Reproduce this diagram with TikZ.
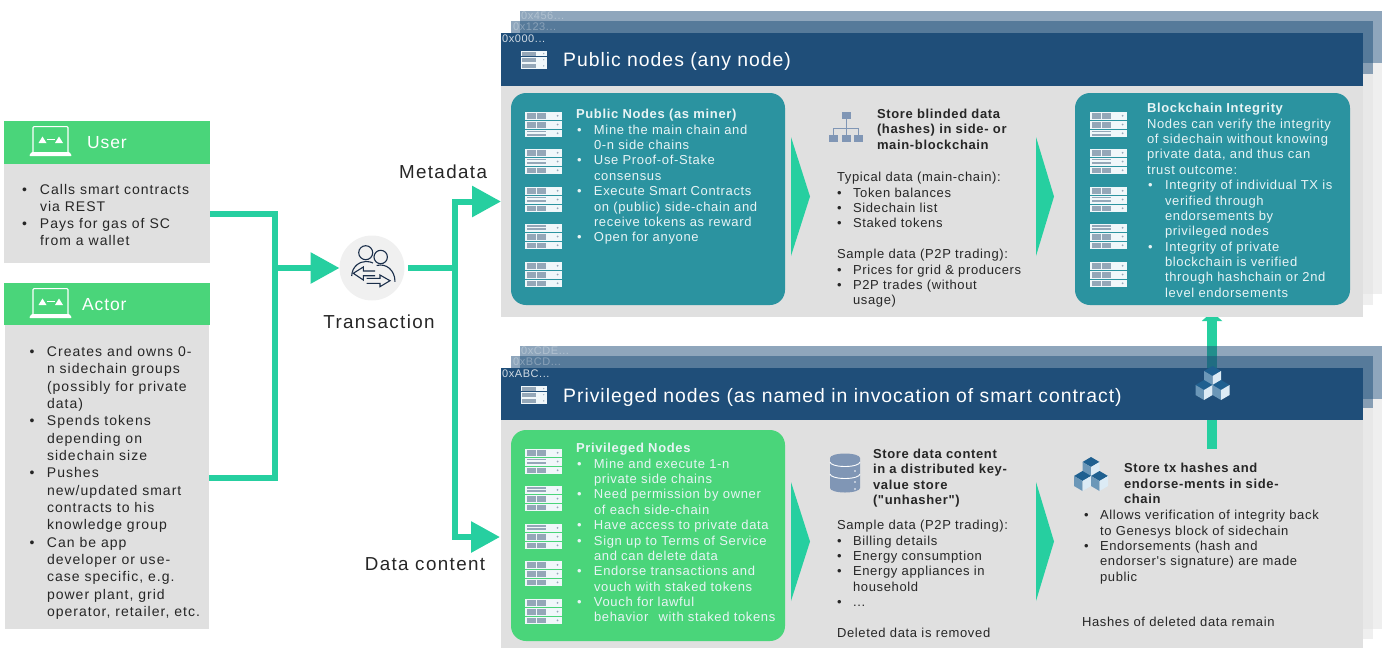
\documentclass[tikz,border=0pt]{standalone}
\usepackage{fontspec}
\setmainfont{Liberation Sans}[LetterSpace=5,Ligatures=TeXOff]
\newfontfamily\widefam{Liberation Sans}[LetterSpace=7.3,Ligatures=TeXOff]
\usetikzlibrary{arrows.meta}
\definecolor{grn}{HTML}{4AD57A}
\definecolor{conncol}{HTML}{26CFA0}
\definecolor{navy}{HTML}{1F4E79}
\definecolor{panel}{HTML}{E0E0E0}
\definecolor{tealbox}{HTML}{2B93A0}
\definecolor{ink}{HTML}{262626}
\definecolor{onbox}{HTML}{E8F4F5}
\definecolor{srvbar}{HTML}{94A7B8}
\definecolor{srvbg}{HTML}{F0F7FA}
\definecolor{slate}{HTML}{8096B5}
\definecolor{cubetop}{HTML}{1F6090}
\definecolor{cubeleft}{HTML}{6B97B8}
\definecolor{cuberight}{HTML}{DCEBF5}
\definecolor{iconink}{HTML}{1A2E4A}
\tikzset{
  rect/.style={anchor=north west,inner sep=0pt,outer sep=0pt},
  conn/.style={draw=conncol,line width=6pt},
  connarrow/.style={conn,-{Triangle[length=29pt,width=30pt]}},
  chevron/.style={fill=conncol},
  txt/.style={anchor=north west,inner sep=0pt,outer sep=0pt,align=left,text=ink,font=\fontsize{13}{15.35}\selectfont},
  lighttxt/.style={txt,text=onbox},
  hdr/.style={anchor=west,inner sep=0pt,text=white,font=\fontsize{19.4}{22}\selectfont},
  cardhdr/.style={anchor=west,inner sep=0pt,text=white,font=\fontsize{17.5}{20}\selectfont},
  bigl/.style={anchor=center,inner sep=0pt,text=ink,font=\widefam\fontsize{18.8}{22}\selectfont},
  hexl/.style={anchor=west,inner sep=0pt,font=\fontsize{11}{13}\selectfont},
}
\newcommand{\bul}[1]{\makebox[16pt][l]{\textbullet}#1}
\newcommand{\cnt}[1]{\hspace*{16pt}#1}
\newcommand{\bbl}[1]{\hspace*{1pt}\makebox[17pt][l]{\textbullet}#1}
\newcommand{\bct}[1]{\hspace*{18pt}#1}
\newcommand{\srvrow}[3]{% y, h, type
  \fill[srvbg] (0,#1) rectangle (37,#1+#2);
  \ifnum#3=1
    \fill[srvbar] (2,#1+1) rectangle (11,#1+#2-1);
    \fill[srvbar] (12,#1+1) rectangle (21,#1+#2-1);
  \else
    \fill[srvbar] (2,#1+1.2) rectangle (21,#1+2.9);
    \fill[srvbar] (2,#1+4.4) rectangle (21,#1+6.1);
  \fi
  \fill[srvbar] (32.5,#1+#2/2) circle (1pt);
}
\newcommand{\server}[6]{%
  \begin{scope}[shift={(#1,#2)},scale=#3]
    \srvrow{0}{7.5}{#4}\srvrow{8.5}{8}{#5}\srvrow{17.5}{7.5}{#6}
  \end{scope}}
\newcommand{\onecube}[2]{%
  \fill[cubetop] (#1,#2) -- (#1+8.5,#2+5) -- (#1,#2+10) -- (#1-8.5,#2+5) -- cycle;
  \fill[cubeleft] (#1-8.5,#2+5) -- (#1,#2+10) -- (#1,#2+20) -- (#1-8.5,#2+15) -- cycle;
  \fill[cuberight] (#1+8.5,#2+5) -- (#1,#2+10) -- (#1,#2+20) -- (#1+8.5,#2+15) -- cycle;}
\newcommand{\cubes}[2]{%
  \begin{scope}[shift={(#1,#2)}]
    \onecube{17}{0}\onecube{8.5}{14}\onecube{25.5}{14}
  \end{scope}}
\newcommand{\laptop}[2]{%
  \begin{scope}[shift={(#1,#2)}]
    \draw[white,line width=1.2pt,rounded corners=1pt] (4,26) -- (4,0.6) -- (39,0.6) -- (39,26);
    \fill[white,rounded corners=1pt] (0,30) -- (2.5,26) -- (40.5,26) -- (43,30) -- cycle;
    \fill[white] (9.5,17) -- (13.5,10.5) -- (17.5,17) -- cycle;
    \fill[white] (26,17) -- (30,10.5) -- (34,17) -- cycle;
    \draw[white,line width=.4pt] (17.5,13.5) -- (26,13.5);
  \end{scope}}
\begin{document}
\begin{tikzpicture}[x=1pt,y=-1pt]
\useasboundingbox (0,0) rectangle (1386,648);
% ---- left column
\node[rect,fill=grn,minimum width=206pt,minimum height=43pt] (userhead) at (4,121) {};
\node[rect,fill=panel,minimum width=206pt,minimum height=99pt] (userbody) at (4,164) {};
\node[rect,fill=grn,minimum width=206pt,minimum height=42pt] (actorhead) at (4,283) {};
\node[rect,fill=panel,minimum width=204pt,minimum height=304pt] (actorbody) at (5,325) {};
\laptop{29}{126}
\laptop{29}{288}
\node[cardhdr] (usertitle) at (87,142.5) {User};
\node[cardhdr] (actortitle) at (82,304.5) {Actor};
\node[txt,font=\widefam\fontsize{14}{17}\selectfont] (usertext) at (22,184.5) {\bul{\hspace{2pt}Calls smart contracts}\\\cnt{\hspace{2pt}via REST}\\\bul{\hspace{2pt}Pays for gas of SC}\\\cnt{\hspace{2pt}from a wallet}};
\node[txt,font=\widefam\fontsize{14}{17.33}\selectfont] (actortext) at (29.5,346.5) {\makebox[17.5pt][l]{\textbullet}Creates and owns 0-\\\hspace*{17.5pt}n sidechain groups\\\hspace*{17.5pt}(possibly for private\\\hspace*{17.5pt}data)\\\makebox[17.5pt][l]{\textbullet}Spends tokens\\\hspace*{17.5pt}depending on\\\hspace*{17.5pt}sidechain size\\\makebox[17.5pt][l]{\textbullet}Pushes\\\hspace*{17.5pt}new/updated smart\\\hspace*{17.5pt}contracts to his\\\hspace*{17.5pt}knowledge group\\\makebox[17.5pt][l]{\textbullet}Can be app\\\hspace*{17.5pt}developer or use-\\\hspace*{17.5pt}case specific, e.g.\\\hspace*{17.5pt}power plant, grid\\\hspace*{17.5pt}operator, retailer, etc.};
% ---- privileged panel, back to front
\fill[panel,opacity=.5] (520,399) rectangle (1382,629);
\fill[panel,opacity=.5] (511,408) rectangle (1373,639);
\node[rect,fill=panel,minimum width=862pt,minimum height=228pt] (privbody) at (501,420) {};
\coordinate (endorse) at (1212,449);
\coordinate (integrity) at (1212,312);
\draw[draw=conncol,line width=10pt,-{Triangle[length=9pt,width=20pt]}] (endorse) -- (integrity);
\fill[navy,opacity=.5] (520,346) rectangle (1382,399);
\fill[navy,opacity=.5] (511,356) rectangle (1373,408);
\fill[navy] (501,368) rectangle (1363,420);
\node[hexl,text=white,opacity=.3] (hexc) at (521,351) {0xCDE...};
\node[hexl,text=white,opacity=.3] (hexb) at (513,362) {0xBCD...};
\node[hexl,text=white,opacity=.8] (hexa) at (502,374) {0xABC...};
\server{521}{386}{.7}{1}{1}{1}
\node[hdr] (privtitle) at (563,397) {Privileged nodes (as named in invocation of smart contract)};
\cubes{1195.5}{366}
% ---- public panel, back to front
\fill[panel,opacity=.5] (520,63) rectangle (1382,294);
\fill[panel,opacity=.5] (511,74) rectangle (1373,305);
\node[rect,fill=panel,minimum width=862pt,minimum height=231pt] (pubbody) at (501,86) {};
\fill[navy,opacity=.5] (520,11) rectangle (1382,63);
\fill[navy,opacity=.5] (511,21) rectangle (1373,74);
\fill[navy] (501,33) rectangle (1363,86);
\node[hexl,text=white,opacity=.3] (hexf) at (521,16) {0x456...};
\node[hexl,text=white,opacity=.3] (hexe) at (513,27) {0x123...};
\node[hexl,text=white,opacity=.8] (hexd) at (502,39) {0x000...};
\server{521}{51}{.7}{1}{1}{1}
\node[hdr] (pubtitle) at (563,61.5) {Public nodes (any node)};
% ---- rounded boxes
\node[rect,fill=tealbox,rounded corners=15pt,minimum width=274pt,minimum height=212pt] (minerbox) at (511,93) {};
\node[rect,fill=tealbox,rounded corners=15pt,minimum width=275pt,minimum height=212pt] (integritybox) at (1075,93) {};
\node[rect,fill=grn,rounded corners=15pt,minimum width=274pt,minimum height=211pt] (privbox) at (511,430) {};
\server{525}{112}{1}{1}{1}{2}
\server{525}{149}{1}{1}{2}{1}
\server{525}{187}{1}{1}{2}{1}
\server{525}{224}{1}{2}{1}{1}
\server{525}{262}{1}{1}{1}{1}
\server{1090}{112}{1}{1}{1}{2}
\server{1090}{149}{1}{1}{2}{1}
\server{1090}{187}{1}{1}{2}{1}
\server{1090}{224}{1}{2}{1}{1}
\server{1090}{262}{1}{1}{1}{1}
\server{525}{449}{1}{1}{2}{1}
\server{525}{486}{1}{2}{1}{1}
\server{525}{524}{1}{2}{1}{1}
\server{525}{561}{1}{1}{1}{1}
\server{525}{599}{1}{1}{1}{1}
% ---- box texts
\node[lighttxt] (minertext) at (576,109.5) {\textbf{Public Nodes (as miner)}\\\bbl{Mine the main chain and}\\\bct{0-n side chains}\\\bbl{Use Proof-of-Stake}\\\bct{consensus}\\\bbl{Execute Smart Contracts}\\\bct{on (public) side-chain and}\\\bct{receive tokens as reward}\\\bbl{Open for anyone}};
\node[lighttxt] (integritytext) at (1147,103.5) {\textbf{Blockchain Integrity}\\Nodes can verify the integrity\\of sidechain without knowing\\private data, and thus can\\trust outcome:\\\bbl{Integrity of individual TX is}\\\bct{verified through}\\\bct{endorsements by}\\\bct{privileged nodes}\\\bbl{Integrity of private}\\\bct{blockchain is verified}\\\bct{through hashchain or 2nd}\\\bct{level endorsements}};
\node[lighttxt] (privtext) at (576,443.5) {\textbf{Privileged Nodes}\\\bbl{Mine and execute 1-n}\\\bct{private side chains}\\\bbl{Need permission by owner}\\\bct{of each side-chain}\\\bbl{Have access to private data}\\\bbl{Sign up to Terms of Service}\\\bct{and can delete data}\\\bbl{Endorse transactions and}\\\bct{vouch with staked tokens}\\\bbl{Vouch for lawful}\\\bct{behavior\hspace{6pt} with staked tokens}};
% ---- middle and right columns
\node[txt] (storehead) at (877,109) {\textbf{Store blinded data}\\\textbf{(hashes) in side- or}\\\textbf{main-blockchain}};
\node[txt] (storetext) at (837,172.5) {Typical data (main-chain):\\\bul{Token balances}\\\bul{Sidechain list}\\\bul{Staked tokens}\\[15.35pt]Sample data (P2P trading):\\\bul{Prices for grid \& producers}\\\bul{P2P trades (without}\\\cnt{usage)}};
\node[txt] (kvhead) at (873,449) {\textbf{Store data content}\\\textbf{in a distributed key-}\\\textbf{value store}\\\textbf{("unhasher")}};
\node[txt] (kvtext) at (837,520.5) {Sample data (P2P trading):\\\bul{Billing details}\\\bul{Energy consumption}\\\bul{Energy appliances in}\\\cnt{household}\\\bul{...}\\[15.35pt]Deleted data is removed};
\node[txt] (txhead) at (1124,463.5) {\textbf{Store tx hashes and}\\\textbf{endorse-ments in side-}\\\textbf{chain}};
\node[txt] (txtext) at (1084,510.5) {\bul{Allows verification of integrity back}\\\cnt{to Genesys block of sidechain}\\\bul{Endorsements (hash and}\\\cnt{endorser's signature) are made}\\\cnt{public}};
\node[txt] (txfoot) at (1082,617.5) {Hashes of deleted data remain};
% ---- chevrons
\fill[chevron] (791,137) -- (810,196.5) -- (791,256) -- cycle;
\fill[chevron] (1036,137) -- (1054,196.5) -- (1036,256) -- cycle;
\fill[chevron] (791,482) -- (810,541.5) -- (791,601) -- cycle;
\fill[chevron] (1036,482) -- (1054,541.5) -- (1036,601) -- cycle;
% ---- hierarchy icon
\fill[slate] (842,112) rectangle (851,119);
\fill[slate] (829,135) rectangle (838,142);
\fill[slate] (842,135) rectangle (851,142);
\fill[slate] (854,135) rectangle (863,142);
\draw[slate,line width=.8pt] (846.5,119) -- (846.5,135) (833.5,135) -- (833.5,128) -- (858.5,128) -- (858.5,135);
% ---- database icon
\fill[slate] (830,458) arc[start angle=180,end angle=0,x radius=15pt,y radius=4.5pt] -- (860,488) arc[start angle=0,end angle=-180,x radius=15pt,y radius=4.5pt] -- cycle;
\draw[white,line width=.9pt] (830,462) arc[start angle=180,end angle=360,x radius=15pt,y radius=4.5pt];
\draw[white,line width=.9pt] (830,474) arc[start angle=180,end angle=360,x radius=15pt,y radius=4.5pt];
\fill[white] (855,471) circle (.8pt) (855,482) circle (.8pt) (855,489) circle (.8pt);
\cubes{1074}{457}
% ---- transaction icon and connectors
\node[circle,fill=black!6,minimum size=65pt,inner sep=0pt,outer sep=0pt] (txcircle) at (372,268) {};
\begin{scope}[line width=1.1pt]
  \draw[iconink] (365.7,252.7) circle (7pt);
  \draw[iconink] (380.7,257) circle (6.7pt);
  \draw[iconink] (351.7,276) .. controls (352,266) and (360,261.5) .. (366,261.5) .. controls (368.5,261.5) and (371,262) .. (373,263);
  \draw[iconink] (376.7,265.5) .. controls (386,263) and (395,270) .. (395,281.7);
  \draw[iconink,fill=black!6,line join=miter] (375,271) -- (363.3,271) -- (363.3,267) -- (353.3,273.3) -- (363.3,280) -- (363.3,275.7) -- (375,275.7);
  \draw[iconink,fill=black!6,line join=miter] (366.7,278.3) -- (380,278.3) -- (380,275) -- (390,280.7) -- (380,286.7) -- (380,283.3) -- (366.7,283.3);
\end{scope}
\coordinate (busleft) at (275,268);
\coordinate (busright) at (455,268);
\coordinate (privin) at (500,537);
\draw[conn] (userbody.east) -| (busleft);
\draw[conn] ([yshift=-1pt]actorbody.east) -| (busleft);
\draw[connarrow] (busleft) -- (txcircle.west);
\draw[conn,shorten <=3.5pt] (txcircle.east) -- (busright);
\draw[connarrow] (busright) |- (pubbody.west);
\draw[connarrow] (busright) |- (privin);
\node[bigl] (metalabel) at (443,172) {Metadata};
\node[bigl] (txlabel) at (379,321.5) {Transaction};
\node[bigl] (datalabel) at (425,564) {Data content};
\end{tikzpicture}
\end{document}
